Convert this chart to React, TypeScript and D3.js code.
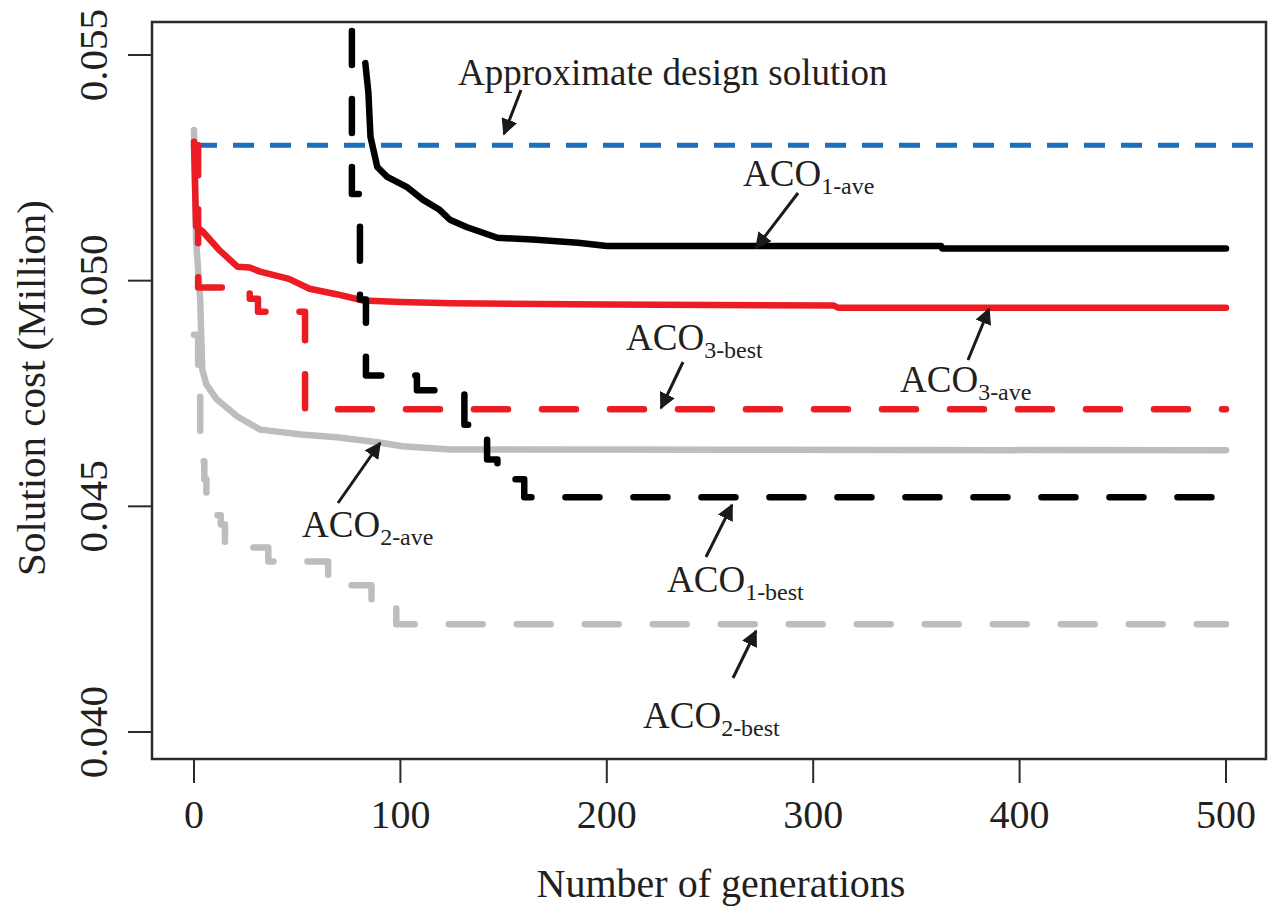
import React from "react";
import * as d3 from "d3";

// ---- data (generation, cost in million) ----
const xTicks = [0, 100, 200, 300, 400, 500];
const yTicks = [0.04, 0.045, 0.05, 0.055];
const yTickLabels = ["0.040", "0.045", "0.050", "0.055"];

const approxSolution = 0.053;

const aco1Ave: [number, number][] = [
  [83, 0.05482], [84.5, 0.05416], [85.5, 0.05319], [88.8, 0.05252], [93.6, 0.0523],
  [103, 0.05208], [111, 0.05179], [119, 0.05157], [124, 0.05135], [132, 0.05119],
  [147, 0.05095], [164, 0.05091], [186, 0.05084], [200, 0.05077], [362, 0.05077],
  [362.5, 0.05071], [500, 0.05071],
];
const aco1Best: [number, number][] = [
  [75.6, 0.057], [76.5, 0.05192], [80.4, 0.04958], [83.3, 0.0479], [108, 0.04757],
  [131, 0.04681], [142, 0.04604], [147, 0.0456], [160, 0.0452], [500, 0.0452],
];
const aco3Ave: [number, number][] = [
  [0, 0.05308], [1, 0.0512], [4, 0.0511], [12, 0.05069], [21, 0.05031], [27, 0.05029],
  [32, 0.0502], [46, 0.05004], [56, 0.04982], [69, 0.0497], [82, 0.04956], [100, 0.04953],
  [125, 0.0495], [200, 0.04947], [310, 0.04945], [312, 0.0494], [500, 0.0494],
];
const aco3Best: [number, number][] = [
  [0, 0.053], [2, 0.04985], [27, 0.0496], [31, 0.04931], [53.8, 0.04715], [500, 0.04715],
];
const aco2Ave: [number, number][] = [
  [0, 0.05334], [1, 0.05091], [3, 0.04958], [4, 0.04803], [6, 0.0477], [11, 0.04737],
  [21, 0.04699], [32, 0.0467], [52, 0.04659], [69, 0.04653], [89, 0.04642], [101, 0.04633],
  [124, 0.04626], [500, 0.04624],
];
const aco2Best: [number, number][] = [
  [0, 0.0488], [2, 0.0475], [3, 0.0466], [4, 0.046], [5, 0.0456], [6, 0.0452],
  [8, 0.045], [10, 0.0448], [13, 0.0446], [15, 0.04418], [23, 0.04409], [36, 0.04378],
  [65, 0.04325], [86, 0.04277], [98, 0.04239], [500, 0.04239],
];

const FONT = "'Liberation Serif', 'Times New Roman', serif";
const RED = "#ec1c24";
const GRAY = "#bdbdbd";
const BLUE = "#1b6fbd";

const App = () => {
  const width = 1271;
  const height = 923;
  const box = { left: 152, right: 1266, top: 22, bottom: 759 };

  const x = d3.scaleLinear().domain([0, 500]).range([194, 1226]);
  const y = d3.scaleLinear().domain([0.04, 0.055]).range([732, 55]);

  const lineLin = d3.line<[number, number]>().x((d) => x(d[0])).y((d) => y(d[1]));
  const lineStep = d3
    .line<[number, number]>()
    .x((d) => x(d[0]))
    .y((d) => y(d[1]))
    .curve(d3.curveStepAfter);

  const series = [
    { d: lineStep(aco2Best), color: GRAY, dash: "34 34" },
    { d: lineLin(aco2Ave), color: GRAY, dash: null },
    { d: lineStep(aco3Best), color: RED, dash: "34 34" },
    { d: lineLin(aco3Ave), color: RED, dash: null },
    { d: lineStep(aco1Best), color: "#000", dash: "34 34" },
    { d: lineLin(aco1Ave), color: "#000", dash: null },
  ];

  // annotation labels and arrows (pixel layout)
  const notes = [
    { main: "ACO", sub: "1-ave", tx: 743, ty: 186, from: [798, 193], to: [756, 248] },
    { main: "ACO", sub: "3-ave", tx: 900, ty: 392, from: [968, 360], to: [989, 309] },
    { main: "ACO", sub: "3-best", tx: 626, ty: 350, from: [683, 362], to: [661, 408] },
    { main: "ACO", sub: "1-best", tx: 667, ty: 592, from: [706, 557], to: [732, 505] },
    { main: "ACO", sub: "2-ave", tx: 302, ty: 537, from: [338, 503], to: [380, 443] },
    { main: "ACO", sub: "2-best", tx: 643, ty: 728, from: [733, 678], to: [756, 631] },
  ];

  return (
    <svg
      width={width}
      height={height}
      style={{ position: "absolute", left: 0, top: 0, background: "#fff" }}
    >
      <defs>
        <clipPath id="plotClip">
          <rect x={box.left} y={box.top} width={box.right - box.left} height={box.bottom - box.top} />
        </clipPath>
        <marker id="arrowHead" viewBox="0 0 10 10" refX="9" refY="5" markerWidth="5.5" markerHeight="5.5"
          markerUnits="strokeWidth" orient="auto">
          <path d="M0,0 L10,5 L0,10 z" fill="#1a1a1a" />
        </marker>
      </defs>
      <rect width={width} height={height} fill="#fff" />

      <g clipPath="url(#plotClip)">
        {/* approximate design solution */}
        <line
          x1={x(0) + 2}
          x2={box.right}
          y1={y(approxSolution)}
          y2={y(approxSolution)}
          stroke={BLUE}
          strokeWidth={5}
          strokeDasharray="21 16"
        />
        {series.map((s, i) => (
          <path
            key={i}
            d={s.d || ""}
            fill="none"
            stroke={s.color}
            strokeWidth={6.5}
            strokeLinecap="round"
            strokeLinejoin="round"
            strokeDasharray={s.dash || undefined}
          />
        ))}
      </g>

      {/* frame */}
      <rect x={box.left} y={box.top} width={box.right - box.left} height={box.bottom - box.top}
        fill="none" stroke="#2b2b2b" strokeWidth={2.5} />

      {/* x axis */}
      {xTicks.map((t) => (
        <g key={t}>
          <line x1={x(t)} x2={x(t)} y1={box.bottom} y2={box.bottom + 24} stroke="#2b2b2b" strokeWidth={2} />
          <text x={x(t)} y={828} textAnchor="middle" fontFamily={FONT} fontSize={40} fill="#231f20">
            {t}
          </text>
        </g>
      ))}
      <text x={721} y={897} textAnchor="middle" fontFamily={FONT} fontSize={40} fill="#231f20">
        Number of generations
      </text>

      {/* y axis */}
      {yTicks.map((t, i) => (
        <g key={t}>
          <line x1={box.left - 24} x2={box.left} y1={y(t)} y2={y(t)} stroke="#2b2b2b" strokeWidth={2} />
          <text
            transform={`translate(107,${y(t)}) rotate(-90)`}
            textAnchor="middle"
            fontFamily={FONT}
            fontSize={41}
            fill="#231f20"
          >
            {yTickLabels[i]}
          </text>
        </g>
      ))}
      <text
        transform="translate(45,388) rotate(-90)"
        textAnchor="middle"
        fontFamily={FONT}
        fontSize={41}
        fill="#231f20"
      >
        Solution cost (Million)
      </text>

      {/* annotations */}
      <text x={458} y={85} fontFamily={FONT} fontSize={37} fill="#231f20">
        Approximate design solution
      </text>
      <line x1={521} y1={90} x2={504} y2={134} stroke="#1a1a1a" strokeWidth={3} markerEnd="url(#arrowHead)" />

      {notes.map((n, i) => (
        <g key={i}>
          <text x={n.tx} y={n.ty} fontFamily={FONT} fontSize={37} fill="#231f20">
            {n.main}
            <tspan fontSize={24} dy={8}>{n.sub}</tspan>
          </text>
          <line
            x1={n.from[0]}
            y1={n.from[1]}
            x2={n.to[0]}
            y2={n.to[1]}
            stroke="#1a1a1a"
            strokeWidth={3}
            markerEnd="url(#arrowHead)"
          />
        </g>
      ))}
    </svg>
  );
};

export default App;
